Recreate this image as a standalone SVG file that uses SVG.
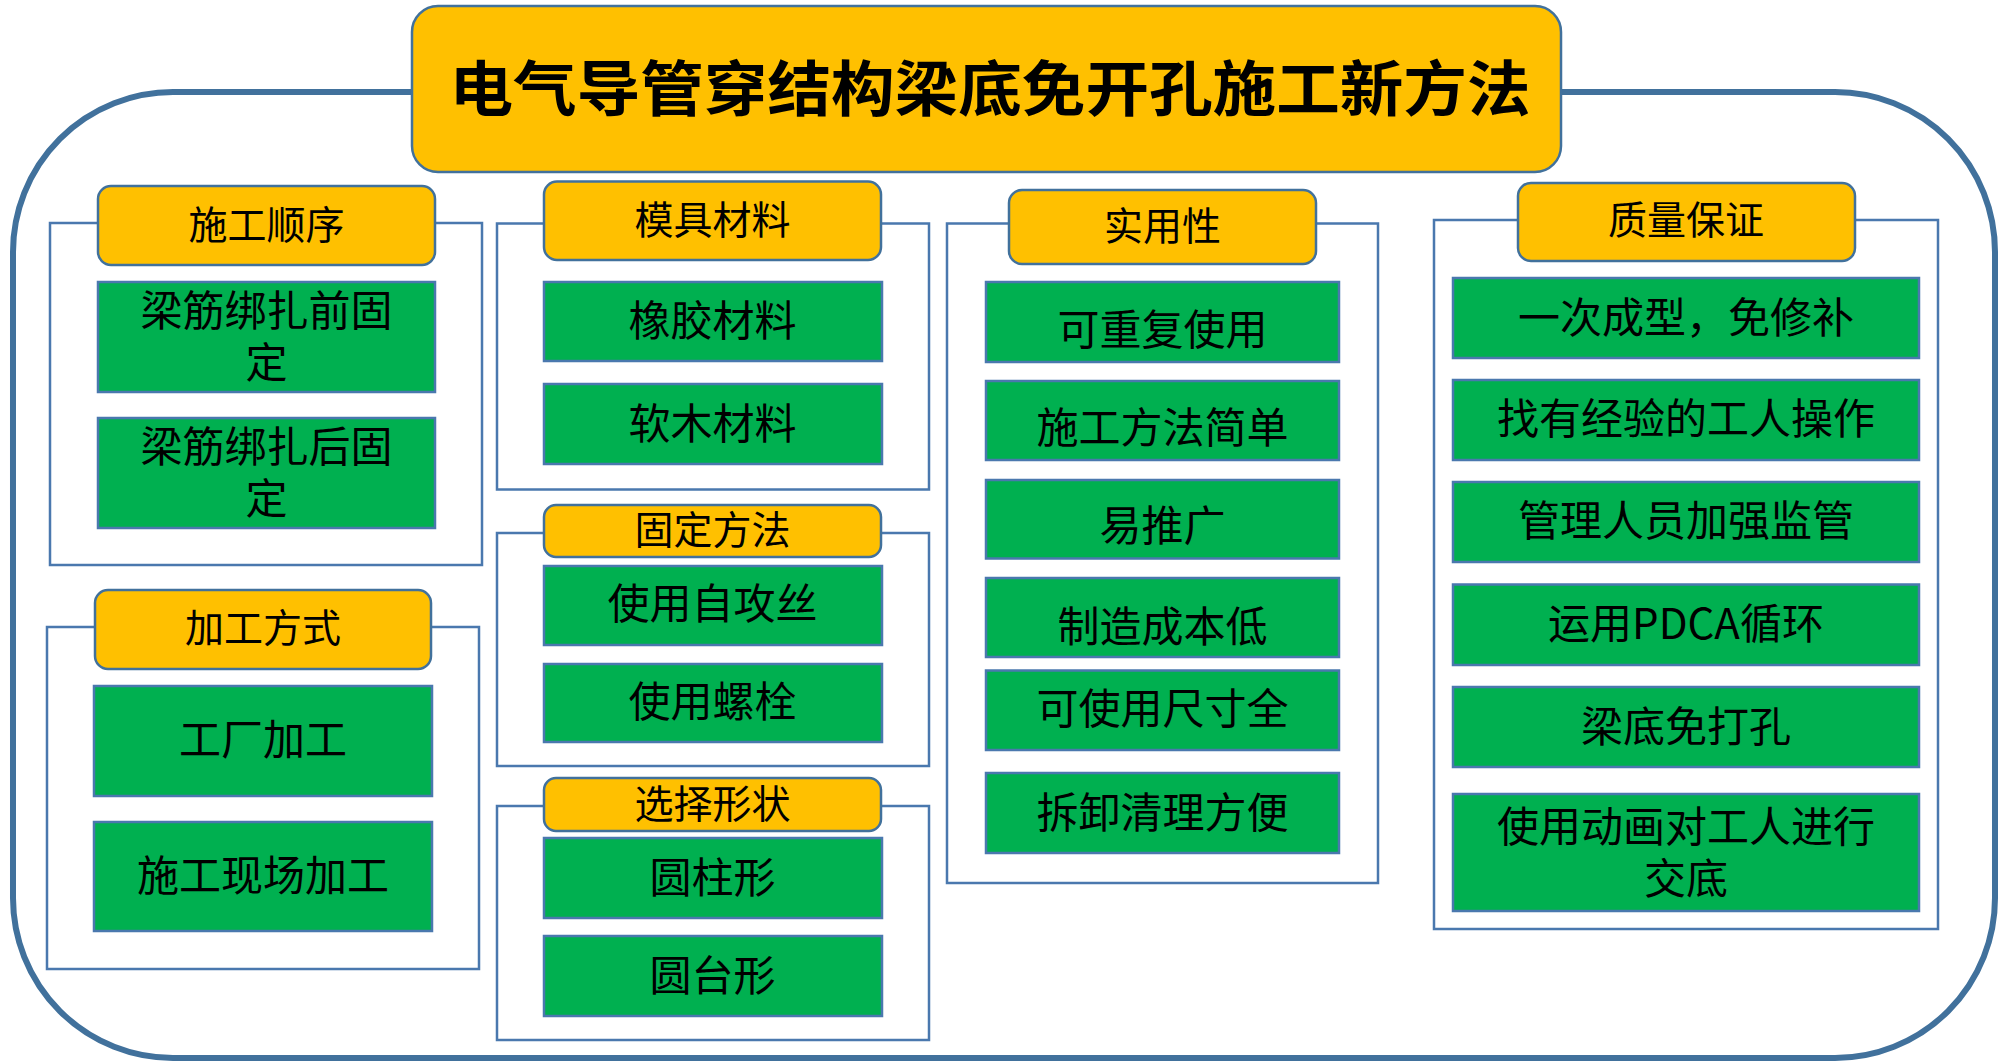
<svg xmlns="http://www.w3.org/2000/svg" width="2011" height="1064" viewBox="0 0 2011 1064">
  <style>
    .outer { fill: #FFFFFF; stroke: #41719C; stroke-width: 6; }
    .frame { fill: none; stroke: #4A78AE; stroke-width: 2.5; }
    .title { fill: #FFC000; stroke: #41719C; stroke-width: 2.5; }
    .hdr { fill: #FFC000; stroke: #41719C; stroke-width: 2.5; }
    .leaf { fill: #00B050; stroke: #4A78AE; stroke-width: 2.5; }
    text { font-family: "Noto Sans CJK SC", "Noto Sans", sans-serif; fill: #000000; text-anchor: middle; dominant-baseline: central; }
    .tt { font-size: 60px; font-weight: bold; }
    .ht { font-size: 39px; }
    .lt { font-size: 42px; }
  </style>
  <rect width="2011" height="1064" fill="#FFFFFF"/>
  <g id="connectors">
    <rect class="outer" x="13" y="92" width="1982" height="966" rx="160" ry="160"/>
    <rect class="frame" x="50" y="223" width="432" height="342"/>
    <rect class="frame" x="47" y="627" width="432" height="342"/>
    <rect class="frame" x="497" y="223.5" width="432" height="266"/>
    <rect class="frame" x="497" y="533" width="432" height="233"/>
    <rect class="frame" x="497" y="806" width="432" height="234"/>
    <rect class="frame" x="947" y="223.5" width="431" height="659.5"/>
    <rect class="frame" x="1434" y="220" width="504" height="709"/>
  </g>
  <g id="title">
    <rect class="title" x="412" y="6" width="1149" height="166" rx="26" ry="26"/>
    <text class="tt" x="990" y="84" textLength="1081" lengthAdjust="spacingAndGlyphs">电气导管穿结构梁底免开孔施工新方法</text>
  </g>
  <g id="sgsx">
    <rect class="hdr" x="98" y="186" width="337" height="79" rx="13" ry="13"/>
    <text class="ht" x="266.5" y="222">施工顺序</text>
  </g>
  <g id="sgsx-1">
    <rect class="leaf" x="98" y="282" width="337" height="110"/>
    <text class="lt" x="266.5" y="307.5">梁筋绑扎前固<tspan x="266.5" dy="51">定</tspan></text>
  </g>
  <g id="sgsx-2">
    <rect class="leaf" x="98" y="418" width="337" height="110"/>
    <text class="lt" x="266.5" y="443.5">梁筋绑扎后固<tspan x="266.5" dy="51">定</tspan></text>
  </g>
  <g id="jgfs">
    <rect class="hdr" x="95" y="590" width="336" height="79" rx="13" ry="13"/>
    <text class="ht" x="263" y="624.5">加工方式</text>
  </g>
  <g id="jgfs-1">
    <rect class="leaf" x="94" y="686" width="338" height="110"/>
    <text class="lt" x="263" y="736">工厂加工</text>
  </g>
  <g id="jgfs-2">
    <rect class="leaf" x="94" y="822" width="338" height="109"/>
    <text class="lt" x="263" y="872">施工现场加工</text>
  </g>
  <g id="mjcl">
    <rect class="hdr" x="544" y="181.5" width="337" height="78.5" rx="13" ry="13"/>
    <text class="ht" x="712.5" y="217">模具材料</text>
  </g>
  <g id="mjcl-1">
    <rect class="leaf" x="544" y="282" width="338" height="79"/>
    <text class="lt" x="712.5" y="317.5">橡胶材料</text>
  </g>
  <g id="mjcl-2">
    <rect class="leaf" x="544" y="384" width="338" height="80"/>
    <text class="lt" x="712.5" y="420">软木材料</text>
  </g>
  <g id="gdff">
    <rect class="hdr" x="544" y="505" width="337" height="52" rx="12" ry="12"/>
    <text class="ht" x="712.5" y="526.5">固定方法</text>
  </g>
  <g id="gdff-1">
    <rect class="leaf" x="544" y="566" width="338" height="79"/>
    <text class="lt" x="712.5" y="600">使用自攻丝</text>
  </g>
  <g id="gdff-2">
    <rect class="leaf" x="544" y="664" width="338" height="78"/>
    <text class="lt" x="712.5" y="698">使用螺栓</text>
  </g>
  <g id="xzxz">
    <rect class="hdr" x="544" y="778" width="337" height="53" rx="12" ry="12"/>
    <text class="ht" x="712.5" y="801">选择形状</text>
  </g>
  <g id="xzxz-1">
    <rect class="leaf" x="544" y="838" width="338" height="80"/>
    <text class="lt" x="712.5" y="874">圆柱形</text>
  </g>
  <g id="xzxz-2">
    <rect class="leaf" x="544" y="936" width="338" height="80"/>
    <text class="lt" x="712.5" y="972">圆台形</text>
  </g>
  <g id="syx">
    <rect class="hdr" x="1009" y="190" width="307" height="74" rx="13" ry="13"/>
    <text class="ht" x="1162.5" y="223">实用性</text>
  </g>
  <g id="syx-1">
    <rect class="leaf" x="986" y="282" width="353" height="80"/>
    <text class="lt" x="1162.5" y="326">可重复使用</text>
  </g>
  <g id="syx-2">
    <rect class="leaf" x="986" y="381" width="353" height="79"/>
    <text class="lt" x="1162.5" y="424">施工方法简单</text>
  </g>
  <g id="syx-3">
    <rect class="leaf" x="986" y="480" width="353" height="78.5"/>
    <text class="lt" x="1162.5" y="522">易推广</text>
  </g>
  <g id="syx-4">
    <rect class="leaf" x="986" y="578" width="353" height="79"/>
    <text class="lt" x="1162.5" y="623">制造成本低</text>
  </g>
  <g id="syx-5">
    <rect class="leaf" x="986" y="670.5" width="353" height="79.5"/>
    <text class="lt" x="1162.5" y="705.5">可使用尺寸全</text>
  </g>
  <g id="syx-6">
    <rect class="leaf" x="986" y="773" width="353" height="80"/>
    <text class="lt" x="1162.5" y="809">拆卸清理方便</text>
  </g>
  <g id="zlbz">
    <rect class="hdr" x="1518" y="183" width="337" height="78" rx="13" ry="13"/>
    <text class="ht" x="1686" y="217">质量保证</text>
  </g>
  <g id="zlbz-1">
    <rect class="leaf" x="1453" y="278" width="466" height="80"/>
    <text class="lt" x="1686" y="314">一次成型，免修补</text>
  </g>
  <g id="zlbz-2">
    <rect class="leaf" x="1453" y="380" width="466" height="80"/>
    <text class="lt" x="1686" y="415">找有经验的工人操作</text>
  </g>
  <g id="zlbz-3">
    <rect class="leaf" x="1453" y="482" width="466" height="80"/>
    <text class="lt" x="1686" y="517">管理人员加强监管</text>
  </g>
  <g id="zlbz-4">
    <rect class="leaf" x="1453" y="584.5" width="466" height="80.5"/>
    <text class="lt" x="1686" y="620">运用PDCA循环</text>
  </g>
  <g id="zlbz-5">
    <rect class="leaf" x="1453" y="687" width="466" height="80"/>
    <text class="lt" x="1686" y="723">梁底免打孔</text>
  </g>
  <g id="zlbz-6">
    <rect class="leaf" x="1453" y="794" width="466" height="117"/>
    <text class="lt" x="1686" y="823">使用动画对工人进行<tspan x="1686" dy="52">交底</tspan></text>
  </g>
</svg>
